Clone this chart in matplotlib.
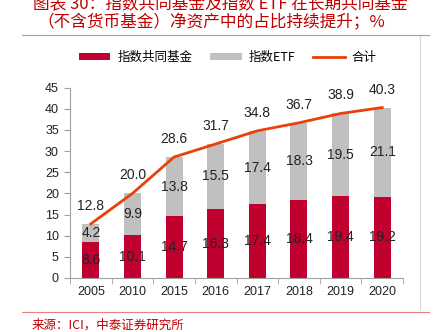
import matplotlib.pyplot as plt
import numpy as np

# data
years = ['2005', '2010', '2015', '2016', '2017', '2018', '2019', '2020']
mutual = [8.6, 10.1, 14.7, 16.3, 17.4, 18.4, 19.4, 19.2]
etf = [4.2, 9.9, 13.8, 15.5, 17.4, 18.3, 19.5, 21.1]
total = [12.8, 20.0, 28.6, 31.7, 34.8, 36.7, 38.9, 40.3]

red = '#C0002F'
gray = '#C0C0C0'
line_c = '#E8410A'
title_c = '#C00000'
cjk = ['Noto Sans CJK SC', 'DejaVu Sans']
num = 'Liberation Sans'

fig = plt.figure(figsize=(4.36, 3.32), dpi=100)
ax = fig.add_axes([70/436, 1-278/332, 333/436, (278-87.7)/332])

x = np.arange(len(years))
w = 0.41
b1 = ax.bar(x, mutual, w, color=red, label='指数共同基金')
b2 = ax.bar(x, etf, w, bottom=mutual, color=gray, label='指数ETF')
l1, = ax.plot(x, total, color=line_c, lw=2, label='合计')

for i in range(len(years)):
    ax.text(x[i], mutual[i]/2, '%.1f' % mutual[i], ha='center', va='center',
            fontsize=10, family=num, color='#222222')
    ax.text(x[i], mutual[i] + etf[i]/2, '%.1f' % etf[i], ha='center', va='center',
            fontsize=10, family=num, color='#222222')
    ax.annotate('%.1f' % total[i], (x[i], total[i]), xytext=(0, 13),
                textcoords='offset points', ha='center', va='center',
                fontsize=10, family=num, color='#222222')

ax.set_xlim(-0.5, len(years) - 0.5)
ax.set_ylim(0, 45)
ax.set_yticks(range(0, 46, 5))
ax.set_xticks(x)
ax.set_xticklabels(years)
ax.set_xticks(np.arange(-0.5, len(years)), minor=True)
ax.tick_params(axis='x', which='major', length=0, pad=6)
ax.tick_params(axis='x', which='minor', length=4, color='#A0A0A0')
ax.tick_params(axis='y', length=4, color='#A0A0A0', pad=4)
for lab in ax.get_xticklabels() + ax.get_yticklabels():
    lab.set_family(num)
    lab.set_fontsize(9)
    lab.set_color('#222222')
for s in ['top', 'right']:
    ax.spines[s].set_visible(False)
for s in ['left', 'bottom']:
    ax.spines[s].set_color('#A0A0A0')

fig.legend([b1, b2, l1], ['指数共同基金', '指数ETF', '合计'],
           loc='center', bbox_to_anchor=(228/436, 1-57/332), ncol=3, frameon=False,
           prop={'family': cjk, 'size': 9}, handlelength=2.5, handleheight=0.5,
           columnspacing=1.4, handletextpad=0.6)

# title (first line is cut by the image edge, as in the source)
fig.text(33/436, 1-4/332, '图表 30：指数共同基金及指数 ETF 在长期共同基金',
         ha='left', va='center', fontsize=12, family=cjk, color=title_c)
fig.text(37/436, 1-23/332, '（不含货币基金）净资产中的占比持续提升；%',
         ha='left', va='center', fontsize=12, family=cjk, color=title_c)
fig.text(32/436, 1-325/332, '来源：ICI，中泰证券研究所', ha='left', va='center',
         fontsize=9, family=cjk, color=title_c)

fig.add_artist(plt.Line2D([22/436, 429/436], [1-35/332, 1-35/332], color='#E88080', lw=0.8))
fig.add_artist(plt.Line2D([22/436, 429/436], [1-312/332, 1-312/332], color='#E88080', lw=0.8))
fig.add_artist(plt.Line2D([420/436, 420/436], [1-36/332, 1-309/332], color='#D8D8D8', lw=0.8))

fig.savefig('out.png', dpi=100)
